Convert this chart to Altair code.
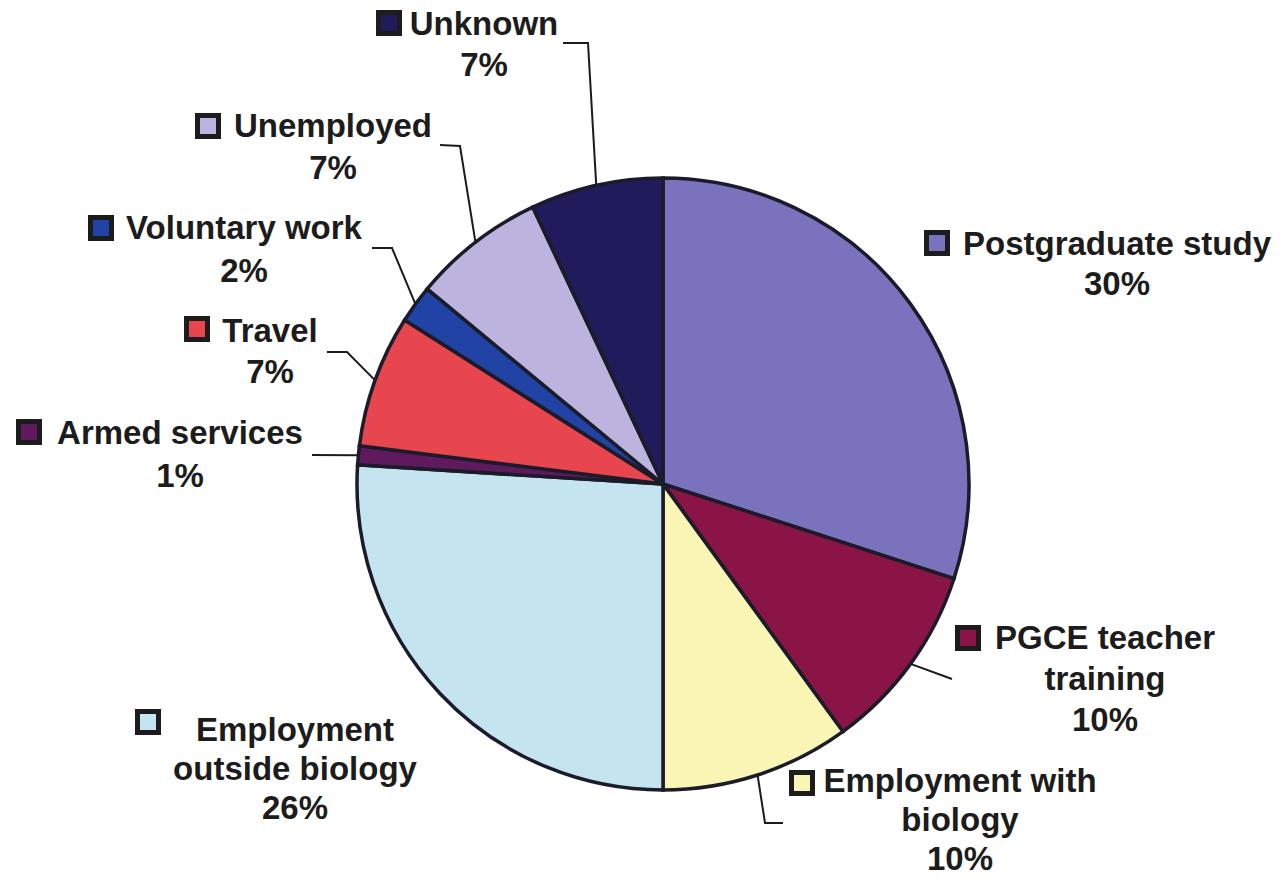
import math
import altair as alt
import pandas as pd

# ---------------- data ----------------
categories = [
    "Postgraduate study",
    "PGCE teacher training",
    "Employment with biology",
    "Employment outside biology",
    "Armed services",
    "Travel",
    "Voluntary work",
    "Unemployed",
    "Unknown",
]
values = [30, 10, 10, 26, 1, 7, 2, 7, 7]
colors = ["#7b72be", "#8a1446", "#f8f5b5", "#c4e5ef", "#5e1a5c",
          "#e8464e", "#2043a5", "#bcb4de", "#201c5c"]
label_text = [
    ["Postgraduate study"],
    ["PGCE teacher", "training"],
    ["Employment with", "biology"],
    ["Employment", "outside biology"],
    ["Armed services"],
    ["Travel"],
    ["Voluntary work"],
    ["Unemployed"],
    ["Unknown"],
]

# ---------------- layout (pixels) ----------------
W, H = 1282, 880
CX, CY, R = 663, 484, 306
FONT = "Liberation Sans"
FS = 33
INK = "#1c1c1c"

label_cx = [1117, 1105, 960, 295, 180, 270, 244, 333, 484]
label_base = [255, 649, 792, 741, 444, 342, 239, 137, 35]
label_lh = [40, 41, 39, 39, 43, 41, 43, 42, 41]
square_xy = [(937, 243), (968, 638), (802, 783), (148, 722), (29, 432),
             (197, 329), (101, 228), (208, 126), (389, 23)]
# elbow points of leader lines (label side first); pie-edge point is computed
leader_pts = [
    None,
    [(952, 679)],
    [(783, 823), (765, 823)],
    None,
    [(312, 455)],
    [(327, 352), (347, 352)],
    [(372, 248), (392, 248)],
    [(440, 145), (460, 146)],
    [(563, 43), (588, 43)],
]

# ---------------- tables ----------------
total = sum(values)
pie_df = pd.DataFrame({"cat": categories, "value": values,
                       "color": colors, "idx": range(len(categories))})

text_rows, sq_rows, line_rows = [], [], []
cum = 0.0
for i, cat in enumerate(categories):
    mid = (cum + values[i] / 2) / total * 2 * math.pi
    cum += values[i]
    lines = label_text[i] + [f"{values[i]}%"]
    for j, t in enumerate(lines):
        text_rows.append({"x": label_cx[i], "y": label_base[i] + j * label_lh[i], "t": t})
    sq_rows.append({"x": square_xy[i][0], "y": square_xy[i][1], "color": colors[i]})
    if leader_pts[i]:
        ex = CX + R * math.sin(mid)
        ey = CY - R * math.cos(mid)
        pts = leader_pts[i] + [(ex, ey)]
        for k, (px, py) in enumerate(pts):
            line_rows.append({"cat": cat, "seq": k, "x": px, "y": py})

text_df = pd.DataFrame(text_rows)
sq_df = pd.DataFrame(sq_rows)
line_df = pd.DataFrame(line_rows)

xs = alt.Scale(domain=[0, W], range=[0, W])
ys = alt.Scale(domain=[0, H], range=[0, H])

pie = alt.Chart(pie_df).mark_arc(radius=R, stroke="#1b1b2a", strokeWidth=3.5).encode(
    theta=alt.Theta("value:Q", stack=True),
    color=alt.Color("color:N", scale=None),
    order=alt.Order("idx:Q"),
    x=alt.value(CX),
    y=alt.value(CY),
)

leaders = alt.Chart(line_df).mark_line(color=INK, strokeWidth=2).encode(
    x=alt.X("x:Q", scale=xs, axis=None),
    y=alt.Y("y:Q", scale=ys, axis=None),
    detail="cat:N",
    order="seq:Q",
)

squares = alt.Chart(sq_df).mark_square(size=441, stroke=INK, strokeWidth=5,
                                        opacity=1, fillOpacity=1).encode(
    x=alt.X("x:Q", scale=xs, axis=None),
    y=alt.Y("y:Q", scale=ys, axis=None),
    fill=alt.Fill("color:N", scale=None),
)

texts = alt.Chart(text_df).mark_text(font=FONT, fontSize=FS, fontWeight="bold",
                                     color=INK, align="center",
                                     baseline="alphabetic").encode(
    x=alt.X("x:Q", scale=xs, axis=None),
    y=alt.Y("y:Q", scale=ys, axis=None),
    text="t:N",
)

chart = alt.layer(leaders, pie, squares, texts).properties(
    width=W, height=H, padding=0, autosize=alt.AutoSizeParams(type="none"),
    background="white",
).configure_view(stroke=None)

chart.save("out.html", embed_options={"renderer": "svg", "actions": False})
